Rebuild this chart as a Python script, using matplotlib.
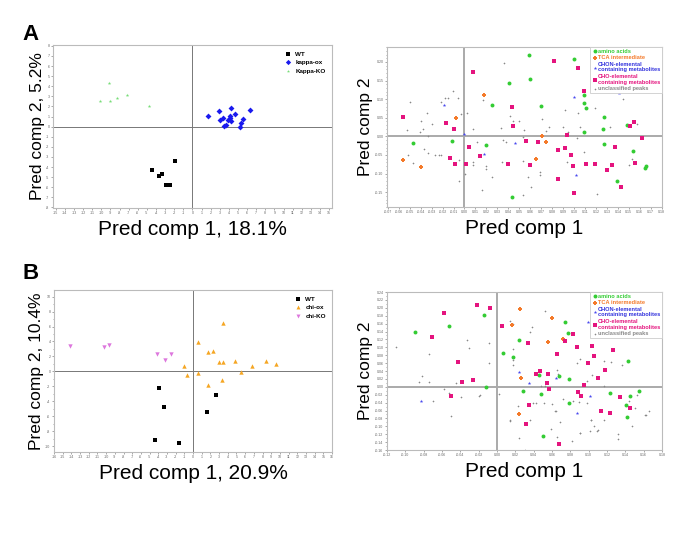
"""Recreate the two-panel OPLS-DA score/loading figure (panels A and B)."""

import matplotlib.pyplot as plt
import numpy as np
from matplotlib.ticker import MultipleLocator, FormatStrFormatter

plt.rcParams["font.family"] = ["Liberation Sans", "DejaVu Sans"]

# ---- Panel A, score plot (kappa lines) ----
a_wt_x = [-4.48, -3.67, -3.31, -2.86, -2.42, -1.87]
a_wt_y = [-4.30, -4.93, -4.70, -5.73, -5.77, -3.43]
a_ox_x = [1.73, 2.90, 4.22, 6.28, 4.63, 5.58, 3.08, 3.34, 3.93, 4.15, 4.08, 4.26, 3.71, 3.49, 5.29, 5.18]
a_ox_y = [1.03, 1.53, 1.87, 1.70, 1.30, 0.73, 0.70, 0.87, 0.67, 0.83, 1.03, 0.53, 0.17, 0.07, 0.40, -0.03]
a_ko_x = [-9.18, -10.17, -9.07, -8.23, -7.16, -4.81]
a_ko_y = [4.37, 2.50, 2.57, 2.80, 3.17, 2.03]

# ---- Panel A, loading plot ----
a_amino_x = [0.0588, 0.0996, 0.060, 0.0405, 0.0253, 0.0697, 0.1087, 0.109, 0.1105, 0.127, 0.1267, 0.109,
             0.148, -0.0469, -0.0113, 0.0198, 0.127, 0.154, 0.139, 0.166, 0.165, 0.0438]
a_amino_y = [0.218, 0.209, 0.155, 0.144, 0.085, 0.082, 0.110, 0.090, 0.075, 0.052, 0.020, 0.012,
             0.031, -0.018, -0.0125, -0.024, -0.0205, -0.040, -0.119, -0.079, -0.084, -0.162]
a_tca_x = [0.0174, -0.0076, 0.071, 0.0746, 0.0655, -0.0563, -0.0396]
a_tca_y = [0.110, 0.049, 0.002, -0.016, -0.062, -0.063, -0.083]
a_chon_x = [-0.0186, -0.0003, 0.046, 0.018, 0.0996, 0.141, 0.1014]
a_chon_y = [0.084, 0.006, -0.019, -0.047, 0.105, 0.116, -0.105]
a_cho_x = [0.0079, 0.0813, 0.104, 0.109, 0.043, 0.0445, -0.0557, -0.0167, -0.0097, 0.0938, 0.0037, 0.014,
           -0.0131, -0.0088, 0.0012, 0.0393, 0.0557, 0.0673, 0.060, 0.085, 0.092, 0.0968, 0.0993, 0.1105,
           0.119, 0.085, 0.100, 0.1303, 0.135, 0.1376, 0.1425, 0.151, 0.1547, 0.1623, 0.156]
a_cho_y = [0.173, 0.203, 0.184, 0.123, 0.080, 0.028, 0.051, 0.036, 0.021, 0.0036, -0.028, -0.054,
           -0.059, -0.075, -0.074, -0.074, -0.0116, -0.0143, -0.078, -0.038, -0.031, -0.051, -0.079, -0.074,
           -0.074, -0.116, -0.151, -0.090, -0.078, -0.0286, -0.135, 0.029, 0.038, -0.005, -0.0705]
a_unc_x = [0.036, -0.0496, -0.0213, -0.0174, -0.0155, -0.0107, -0.0058, -0.0338, -0.040, -0.030, -0.038,
           -0.041, -0.0524, -0.0332, 0.0024, -0.003, 0.0076, 0.0167, -0.0368, -0.033, -0.0268, -0.023,
           -0.021, -0.052, -0.047, -0.0046, 0.0003, -0.0049, 0.0082, 0.0076, 0.0113, 0.0195, 0.0195,
           0.0247, 0.0164, 0.0338, 0.0353, 0.0378, 0.0417, 0.050, 0.0439, 0.0335, 0.054, 0.0533, 0.0536,
           0.0576, 0.0533, 0.061, 0.0685, 0.069, 0.071, 0.0746, 0.0773, 0.0898, 0.0914, 0.0944, 0.094,
           0.1026, 0.105, 0.1032, 0.1087, 0.119, 0.121, 0.122, 0.1325, 0.1446, 0.157, 0.150, 0.1526]
a_unc_y = [0.196, 0.093, 0.093, 0.103, 0.103, 0.122, 0.102, 0.062, 0.040, 0.034, 0.019,
           0.0125, 0.017, 0.001, 0.063, 0.060, 0.021, 0.098, -0.034, -0.0455, -0.051, -0.051,
           -0.049, -0.050, -0.071, -0.0625, -0.101, -0.1205, -0.0696, -0.0759, -0.016, -0.080, -0.088,
           -0.108, -0.143, -0.068, -0.0098, -0.015, 0.054, 0.040, 0.042, 0.023, 0.017, -0.003, -0.067,
           -0.109, -0.157, -0.135, -0.0964, -0.105, 0.048, 0.014, 0.026, 0.024, 0.072, 0.011, -0.070,
           -0.005, 0.026, 0.062, -0.043, 0.075, -0.154, 0.132, 0.026, 0.100, 0.034, -0.076, -0.062]

# ---- Panel B, score plot (chi lines) ----
b_wt_x = [-3.87, -3.33, 2.64, 1.65, -4.37, -1.64]
b_wt_y = [-2.17, -4.80, -3.20, -5.50, -9.24, -9.55]
b_ox_x = [3.41, 0.54, 1.76, 2.26, 2.99, 3.48, 4.83, 6.78, 8.45, 9.50, -1.03, -0.72, 0.57, 5.55, 1.76, 3.37]
b_ox_y = [6.50, 3.87, 2.63, 2.67, 1.29, 1.29, 1.43, 0.67, 1.38, 0.94, 0.76, -0.48, -0.22, -0.04, -1.77, -1.10]
b_ko_x = [-14.2, -10.2, -9.7, -4.1, -3.25, -2.56]
b_ko_y = [3.33, 3.20, 3.50, 2.30, 1.50, 2.30]

# ---- Panel B, loading plot ----
b_amino_x = [-0.0895, -0.052, -0.0145, -0.0116, 0.0062, 0.0174, 0.024, 0.028, 0.046, 0.048, 0.068, 0.0736,
             0.077, 0.078, 0.078, 0.1236, 0.143, 0.1446, 0.155, 0.141, 0.142, 0.0496]
b_amino_y = [0.140, 0.153, 0.182, 0.000, 0.086, 0.076, 0.119, -0.011, 0.030, -0.017, 0.028, 0.163,
             0.136, 0.020, -0.042, -0.0145, 0.066, -0.023, -0.011, -0.045, -0.076, -0.124]
b_tca_x = [0.0254, 0.0605, 0.0167, 0.0558, 0.072, 0.026, 0.0236]
b_tca_y = [0.197, 0.1745, 0.156, 0.114, 0.120, 0.023, -0.069]
b_chon_x = [0.0996, 0.0243, 0.035, 0.0638, 0.101, 0.0873, -0.083]
b_chon_y = [0.163, 0.0375, 0.010, 0.023, -0.022, -0.066, -0.035]
b_cho_x = [-0.0583, -0.0214, -0.008, -0.0707, 0.005, 0.0333, 0.065, 0.0746, 0.083, 0.087, 0.104, 0.106,
           0.127, 0.099, 0.118, 0.1105, -0.043, -0.038, -0.0257, -0.050, 0.043, 0.0464, 0.0558, 0.0547,
           0.057, 0.095, 0.088, 0.092, 0.0348, 0.032, 0.1337, 0.1446, 0.113, 0.123, 0.068]
b_cho_y = [0.1865, 0.208, 0.199, 0.126, 0.154, 0.110, 0.083, 0.115, 0.133, 0.101, 0.104, 0.0775,
           0.094, 0.061, 0.043, 0.023, 0.062, 0.0128, 0.018, -0.023, 0.0315, 0.040, 0.033, 0.0085,
           -0.006, 0.004, -0.0136, -0.024, -0.046, -0.095, -0.026, -0.054, -0.062, -0.066, -0.145]
b_unc_x = [-0.110, -0.0815, -0.085, -0.0746, -0.070, -0.074, -0.058, -0.052, -0.050, -0.045, -0.039,
           -0.033, -0.031, -0.0196, -0.0083, -0.0083, 0.0025, 0.0138, 0.0178, 0.017, 0.0178, 0.017,
           0.0384, 0.036, 0.052, 0.048, 0.052, 0.065, 0.066, 0.072, 0.087, 0.0906, 0.098, 0.104,
           0.109, 0.1167, 0.1167, 0.124, 0.136, 0.144, 0.151, 0.1525, 0.162, 0.1656, 0.147, 0.023,
           0.014, 0.042, 0.039, 0.0507, 0.0605, 0.064, 0.069, 0.0587, 0.091, 0.101, 0.102, 0.106,
           0.109, 0.117, 0.0895, 0.098, -0.019, 0.0145, 0.0236, 0.031, 0.082, 0.0906, 0.1025, 0.11,
           0.132, 0.132, 0.1616, 0.065, 0.0355, 0.063, 0.083]
b_unc_y = [0.102, 0.027, 0.013, 0.012, -0.036, 0.083, -0.006, -0.0145, -0.075, 0.010, -0.025,
           0.119, 0.098, -0.022, 0.111, 0.060, -0.017, 0.166, 0.159, 0.095, 0.069, 0.054,
           0.151, 0.138, 0.193, 0.0026, 0.0017, 0.042, 0.033, -0.030, 0.060, 0.070, 0.0145, 0.030,
           0.023, 0.001, 0.0656, 0.063, 0.0545, -0.035, -0.054, -0.0196, -0.071, -0.060, -0.100, -0.049,
           -0.084, -0.040, -0.040, -0.041, -0.0426, -0.062, -0.088, -0.107, -0.117, -0.1115, -0.085, -0.100,
           -0.1115, -0.085, -0.039, -0.041, -0.0212, -0.086, -0.130, -0.160, -0.138, -0.117, -0.083, -0.109,
           -0.120, -0.133, -0.0706, -0.128, -0.085, -0.062, -0.037]

GRAY_FRAME = "#bbbbbb"
XLABEL_SIZE = 15
YLABEL_SIZE = 12.5


def style_axes(ax):
    for spine in ax.spines.values():
        spine.set_color(GRAY_FRAME)
        spine.set_linewidth(0.8)
    ax.tick_params(which="both", labelsize=2.6, length=1.5, width=0.4, colors="#666666", pad=1)
    ax.tick_params(which="minor", length=1.0)


def score_plot(ax, groups, xlim, ylim, ystep, xlabel, ylabel):
    ax.axhline(0, color="#777777", lw=0.7, zorder=1)
    ax.axvline(0, color="#777777", lw=0.7, zorder=1)
    for x, y, marker, color, size, label in groups:
        ax.scatter(x, y, marker=marker, color=color, s=size, lw=0, label=label, zorder=3)
    ax.set_xlim(*xlim)
    ax.set_ylim(*ylim)
    ax.xaxis.set_major_locator(MultipleLocator(1))
    ax.yaxis.set_major_locator(MultipleLocator(ystep))
    ax.yaxis.set_minor_locator(MultipleLocator(1))
    ax.xaxis.set_major_formatter(FormatStrFormatter("%d"))
    ax.yaxis.set_major_formatter(FormatStrFormatter("%d"))
    style_axes(ax)
    ax.set_xlabel(xlabel, fontsize=XLABEL_SIZE, labelpad=3)
    ax.set_ylabel(ylabel, fontsize=YLABEL_SIZE, labelpad=1)
    leg = ax.legend(loc="upper right", frameon=False, fontsize=4.5, handletextpad=0.2,
                    labelspacing=0.5, borderaxespad=0.6, markerscale=0.9)
    for text in leg.get_texts():
        text.set_fontweight("bold")


def loading_plot(ax, data, xlim, ylim, xstep, ystep, yminor):
    ax.axhline(0, color="#aaaaaa", lw=1.4, zorder=1)
    ax.axvline(0, color="#aaaaaa", lw=1.4, zorder=1)
    amino, tca, chon, cho, unc = data
    ax.scatter(*unc, marker="+", color="#888888", s=2.5, lw=0.4, zorder=2, label="unclassified peaks")
    ax.scatter(*amino, marker="o", color="#33cc33", s=8, lw=0, zorder=3, label="amino acids")
    ax.scatter(*tca, marker="P", color="#f47a2a", s=12, lw=0, zorder=3, label="TCA intermediate")
    ax.scatter(*chon, marker="*", color="#4848ee", s=7, lw=0, zorder=3,
               label="CHON-elemental\ncontaining metabolites")
    ax.scatter(*cho, marker="s", color="#e4147e", s=8, lw=0, zorder=3,
               label="CHO-elemental\ncontaining metabolites")
    ax.set_xlim(*xlim)
    ax.set_ylim(*ylim)
    ax.xaxis.set_major_locator(MultipleLocator(xstep))
    ax.yaxis.set_major_locator(MultipleLocator(ystep))
    ax.yaxis.set_minor_locator(MultipleLocator(yminor))
    ax.xaxis.set_major_formatter(FormatStrFormatter("%.2f"))
    ax.yaxis.set_major_formatter(FormatStrFormatter("%.2f"))
    style_axes(ax)
    ax.set_xlabel("Pred comp 1", fontsize=XLABEL_SIZE, labelpad=3)
    ax.set_ylabel("Pred comp 2", fontsize=YLABEL_SIZE, labelpad=2)
    handles, labels = ax.get_legend_handles_labels()
    order = [1, 2, 3, 4, 0]
    leg = ax.legend([handles[i] for i in order], [labels[i] for i in order], loc="upper right",
                    fontsize=4.1, handletextpad=0.1, labelspacing=0.25, borderaxespad=0.0,
                    borderpad=0.3, handlelength=1.0, fancybox=False, edgecolor="#cccccc",
                    framealpha=1)
    leg.get_frame().set_linewidth(0.6)
    colors = ["#33cc33", "#f47a2a", "#3333dd", "#e4147e", "#888888"]
    for text, color in zip(leg.get_texts(), colors):
        text.set_color(color)
        text.set_fontweight("bold")


fig = plt.figure(figsize=(6.85, 5.33), dpi=100)

ax_a1 = fig.add_axes([0.0774, 0.6098, 0.407, 0.306])
score_plot(ax_a1,
           [(a_wt_x, a_wt_y, "s", "black", 7, "WT"),
            (a_ox_x, a_ox_y, "D", "#1a1aee", 9, "kappa-ox"),
            (a_ko_x, a_ko_y, "*", "#77dd77", 7, "Kappa-KO")],
           (-15.3, 15.3), (-8.05, 8.1), 1,
           "Pred comp 1, 18.1%", "Pred comp 2, 5.2%")

ax_a2 = fig.add_axes([0.565, 0.6116, 0.4015, 0.300])
loading_plot(ax_a2,
             [(a_amino_x, a_amino_y), (a_tca_x, a_tca_y), (a_chon_x, a_chon_y),
              (a_cho_x, a_cho_y), (a_unc_x, a_unc_y)],
             (-0.0707, 0.1803), (-0.19, 0.24), 0.01, 0.05, 0.01)

ax_b1 = fig.add_axes([0.0788, 0.152, 0.406, 0.304])
score_plot(ax_b1,
           [(b_wt_x, b_wt_y, "s", "black", 7, "WT"),
            (b_ox_x, b_ox_y, "^", "#f5a623", 10, "chi-ox"),
            (b_ko_x, b_ko_y, "v", "#dd77dd", 10, "chi-KO")],
           (-16, 16), (-10.8, 10.9), 2,
           "Pred comp 1, 20.9%", "Pred comp 2, 10.4%")

ax_b2 = fig.add_axes([0.565, 0.1557, 0.4015, 0.2964])
loading_plot(ax_b2,
             [(b_amino_x, b_amino_y), (b_tca_x, b_tca_y), (b_chon_x, b_chon_y),
              (b_cho_x, b_cho_y), (b_unc_x, b_unc_y)],
             (-0.12, 0.18), (-0.16, 0.24), 0.02, 0.02, 0.01)

fig.text(0.033, 0.935, "A", fontsize=16, fontweight="bold", va="center")
fig.text(0.033, 0.487, "B", fontsize=16, fontweight="bold", va="center")

fig.savefig("out.png", dpi=100)
plt.close(fig)
